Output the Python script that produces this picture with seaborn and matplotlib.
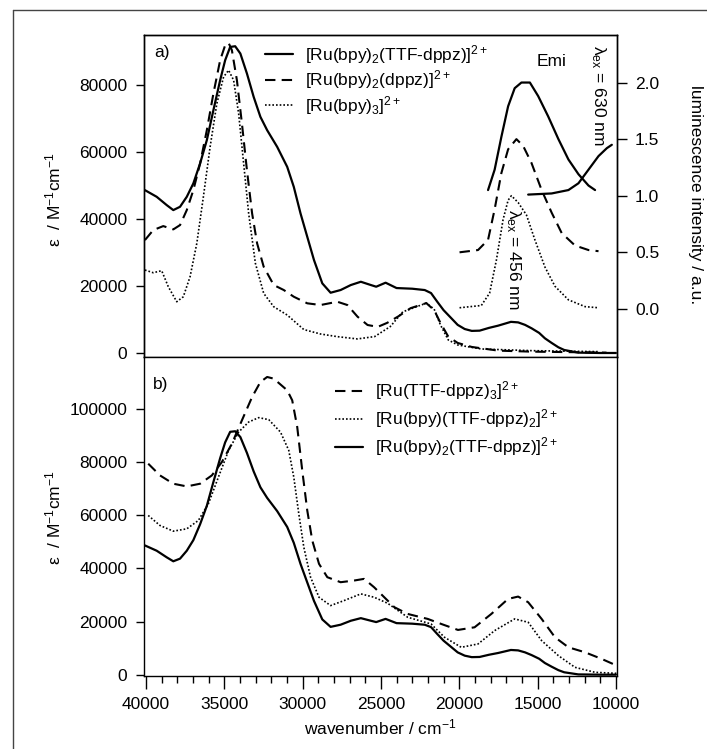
import numpy as np
import pandas as pd
import matplotlib
matplotlib.use("Agg")
import matplotlib.pyplot as plt
import seaborn as sns
from matplotlib.ticker import MultipleLocator
from matplotlib.lines import Line2D

# ---- absorption, panel a (wavenumber / cm-1, epsilon / M-1 cm-1)
wn_a_ttf = [40060, 39310, 38670, 38250, 37820, 37390, 36970, 36540, 36110, 35690,
            35260, 34940, 34620, 34300, 33970, 33550, 33120, 32690, 32260, 31620,
            30980, 30560, 30130, 29700, 29270, 28740, 28210, 27570, 26920, 26280,
            25640, 25300, 24700, 24000, 23000, 22200, 21800, 21400, 21000, 20500,
            20100, 19650, 19200, 18700, 18100, 17520, 16700, 16240, 15800, 15380,
            14900, 14530, 14100, 13670, 13300, 12400, 11000, 10000]
eps_a_ttf = [48650, 46660, 44180, 42690, 43680, 46660, 50660, 56620, 63580, 72540,
             81490, 87460, 91430, 91640, 89460, 83490, 76510, 70540, 66560, 61580,
             55610, 49640, 41700, 34720, 27760, 20800, 18000, 18810, 20300, 21280,
             20300, 19800, 21000, 19400, 19200, 18800, 17900, 15300, 12800, 10360,
             8400, 7160, 6600, 6670, 7500, 8160, 9300, 9140, 8400, 7370,
             6000, 4380, 3000, 1700, 900, 100, 0, 0]

wn_a_dppz = [40060, 39530, 38890, 38250, 37820, 37390, 36970, 36540, 36110, 35690,
             35260, 34940, 34720, 34510, 34190, 33870, 33550, 33220, 32900, 32480,
             31840, 31200, 30560, 29700, 28850, 27780, 27140, 26490, 25850, 25200,
             24600, 23900, 23100, 22100, 21600, 21200, 20700, 20100, 19200, 17500,
             15400, 12000, 10600]
eps_a_dppz = [33730, 36720, 37910, 36920, 38210, 42690, 48650, 56620, 66560, 77510,
              87460, 91940, 92630, 90450, 81490, 68560, 54630, 41700, 32740, 25760,
              20300, 18810, 16810, 14840, 14330, 15310, 14330, 10840, 8360, 7800,
              9000, 10900, 13400, 14900, 12800, 9000, 4900, 3000, 1800, 700,
              400, 200, 100]

wn_a_bpy3 = [40060, 39530, 38990, 38570, 38030, 37610, 37180, 36750, 36330, 35900,
             35470, 35040, 34720, 34400, 34080, 33760, 33440, 33010, 32480, 31840,
             30980, 29920, 28850, 27780, 26500, 25400, 24400, 23600, 22100, 21600,
             21200, 20700, 20100, 18600, 15400, 11100]
eps_a_bpy3 = [24780, 23980, 24580, 19800, 15310, 16810, 22780, 32740, 46660, 61580,
              74530, 82480, 84480, 81490, 71550, 56620, 41700, 26780, 17810, 13820,
              11340, 7000, 5670, 4880, 4200, 4900, 7900, 12300, 14900, 13100,
              8400, 3900, 2400, 1200, 700, 400]

# ---- emission, panel a (right axis, a.u.)
wn_em_ttf = [18160, 17740, 17310, 16880, 16460, 16030, 15490, 14960, 14320, 13670,
             13030, 12390, 11750, 11330]
em_ttf = [1.05, 1.23, 1.52, 1.79, 1.95, 2.00, 2.00, 1.88, 1.70, 1.50,
          1.32, 1.19, 1.09, 1.05]
wn_em_ttf2 = [15600, 14100, 13030, 12390, 11750, 11110, 10580, 10260]
em_ttf2 = [1.01, 1.02, 1.05, 1.11, 1.23, 1.35, 1.42, 1.45]
wn_em_dppz = [19980, 18800, 18160, 17740, 17310, 16880, 16350, 15920, 15390, 14740,
              14100, 13460, 12610, 11750, 11110]
em_dppz = [0.50, 0.52, 0.61, 0.88, 1.20, 1.41, 1.50, 1.44, 1.29, 1.05,
           0.85, 0.67, 0.56, 0.52, 0.51]
wn_em_bpy3 = [19980, 18590, 18060, 17630, 17200, 16880, 16670, 16240, 15710, 15170,
              14530, 13890, 13030, 11970, 11110]
em_bpy3 = [0.01, 0.03, 0.14, 0.43, 0.79, 0.96, 1.00, 0.94, 0.83, 0.61,
           0.37, 0.20, 0.08, 0.02, 0.01]

# ---- absorption, panel b
wn_b_ttf3 = [39850, 39100, 38250, 37390, 36540, 35790, 35150, 34510, 33870, 33220,
             32690, 32260, 31840, 30980, 30660, 30340, 30020, 29700, 29380, 28950,
             28420, 27570, 26710, 26070, 25430, 24570, 24140, 23290, 22010, 21150,
             20080, 19020, 17950, 16880, 16240, 15600, 14740, 13890, 13030, 11970,
             10900, 9940]
eps_b_ttf3 = [79430, 75020, 71890, 70880, 71890, 75020, 80050, 86970, 95760, 104540,
              110200, 112080, 111450, 107070, 103300, 93240, 76910, 61830, 50520, 41730,
              36700, 34810, 35440, 36070, 32900, 27900, 25400, 22870, 20990, 19100,
              16840, 17840, 22870, 28530, 29400, 27270, 20990, 14080, 10300, 8420,
              5910, 3390]

wn_b_ttf2 = [39850, 39100, 38250, 37390, 36650, 36010, 35370, 34720, 34080, 33440,
             32800, 32160, 31410, 30880, 30560, 30240, 29920, 29490, 28950, 28210,
             27350, 26280, 25430, 24570, 24360, 23290, 21800, 20940, 19870, 18800,
             17740, 16460, 15600, 14740, 13670, 12610, 11330, 9940]
eps_b_ttf2 = [59940, 56170, 54030, 54910, 58060, 64350, 74380, 84450, 91350, 95120,
              96770, 96020, 91350, 84450, 74380, 60580, 47990, 36700, 29140, 26010,
              27900, 30420, 29140, 26880, 26010, 21620, 19100, 14080, 10300, 11560,
              16590, 20990, 19730, 12820, 7160, 2760, 880, 500]

lab_ttf = "[Ru(bpy)$_2$(TTF-dppz)]$^{2+}$"
lab_dppz = "[Ru(bpy)$_2$(dppz)]$^{2+}$"
lab_bpy3 = "[Ru(bpy)$_3$]$^{2+}$"
lab_ttf3 = "[Ru(TTF-dppz)$_3$]$^{2+}$"
lab_ttf2 = "[Ru(bpy)(TTF-dppz)$_2$]$^{2+}$"

sns.set_style("ticks", {"axes.edgecolor": "black", "text.color": "black",
                        "xtick.color": "black", "ytick.color": "black",
                        "axes.labelcolor": "black"})
plt.rcParams["font.family"] = ["Liberation Sans", "DejaVu Sans"]
plt.rcParams["mathtext.fontset"] = "custom"
plt.rcParams["mathtext.rm"] = "Liberation Sans"
plt.rcParams["mathtext.it"] = "Liberation Sans"
plt.rcParams["mathtext.default"] = "regular"
plt.rcParams["font.size"] = 12.5
plt.rcParams["axes.linewidth"] = 1.0

DASH = (0, (5, 3))
DOT = (0, (1, 1.2))
W = 707
H = 749

fig = plt.figure(figsize=(7.07, 7.49), dpi=100)
ax1 = fig.add_axes([144 / W, 1 - 357 / H, 473 / W, 322 / H])
ax2 = fig.add_axes([144 / W, 1 - 676 / H, 473 / W, 319 / H])

# panel a
sns.lineplot(x=wn_a_ttf, y=eps_a_ttf, ax=ax1, color="k", lw=1.6, sort=False, label=lab_ttf)
sns.lineplot(x=wn_a_dppz, y=eps_a_dppz, ax=ax1, color="k", lw=1.5, linestyle=DASH, sort=False, label=lab_dppz)
sns.lineplot(x=wn_a_bpy3, y=eps_a_bpy3, ax=ax1, color="k", lw=1.2, linestyle=DOT, sort=False, label=lab_bpy3)
ax1.set_xlim(40120, 9930)
ax1.set_ylim(-1200, 95000)
ax1.set_yticks([0, 20000, 40000, 60000, 80000])
ax1.xaxis.set_major_locator(MultipleLocator(5000))
ax1.xaxis.set_minor_locator(MultipleLocator(1000))
ax1.tick_params(axis="x", which="major", direction="out", length=8, width=1, labelbottom=False)
ax1.tick_params(axis="x", which="minor", direction="out", length=4.5, width=1)
ax1.tick_params(axis="y", direction="out", length=6, width=1, pad=6)
ax1.set_xlabel("")
ax1.set_ylabel("")
ax1.legend(loc="upper left", bbox_to_anchor=(0.256, 0.975), frameon=False,
           handlelength=1.6, handletextpad=0.7, labelspacing=0.15,
           borderaxespad=0, borderpad=0, fontsize=12.5)

axr = ax1.twinx()
sns.lineplot(x=wn_em_ttf, y=em_ttf, ax=axr, color="k", lw=1.6, sort=False)
sns.lineplot(x=wn_em_ttf2, y=em_ttf2, ax=axr, color="k", lw=1.6, sort=False)
sns.lineplot(x=wn_em_dppz, y=em_dppz, ax=axr, color="k", lw=1.5, linestyle=DASH, sort=False)
sns.lineplot(x=wn_em_bpy3, y=em_bpy3, ax=axr, color="k", lw=1.2, linestyle=DOT, sort=False)
axr.set_xlim(40120, 9930)
axr.set_ylim(-0.425, 2.42)
axr.set_yticks([0.0, 0.5, 1.0, 1.5, 2.0])
axr.set_yticklabels(["0.0", "0.5", "1.0", "1.5", "2.0"])
axr.tick_params(axis="y", direction="out", length=7, width=1, pad=6)
axr.set_ylabel("")

# panel b
sns.lineplot(x=wn_b_ttf3, y=eps_b_ttf3, ax=ax2, color="k", lw=1.5, linestyle=DASH, sort=False, label=lab_ttf3)
sns.lineplot(x=wn_b_ttf2, y=eps_b_ttf2, ax=ax2, color="k", lw=1.2, linestyle=DOT, sort=False, label=lab_ttf2)
sns.lineplot(x=wn_a_ttf, y=eps_a_ttf, ax=ax2, color="k", lw=1.6, sort=False, label=lab_ttf)
ax2.set_xlim(40120, 9930)
ax2.set_ylim(-500, 119600)
ax2.set_yticks([0, 20000, 40000, 60000, 80000, 100000])
ax2.xaxis.set_major_locator(MultipleLocator(5000))
ax2.xaxis.set_minor_locator(MultipleLocator(1000))
ax2.tick_params(axis="x", which="major", direction="out", length=9, width=1, pad=6)
ax2.tick_params(axis="x", which="minor", direction="out", length=5, width=1)
ax2.tick_params(axis="y", direction="out", length=6, width=1, pad=6)
ax2.spines["top"].set_visible(False)
ax2.set_xlabel("")
ax2.set_ylabel("")
ax2.legend(loc="upper left", bbox_to_anchor=(0.404, 0.93), frameon=False,
           handlelength=1.6, handletextpad=0.7, labelspacing=0.3,
           borderaxespad=0, borderpad=0, fontsize=12.5)

# labels and annotations
ylab = "ε  / M$^{-1}$cm$^{-1}$"
fig.text(53 / W, 1 - 200 / H, ylab, rotation=90, ha="center", va="center", fontsize=12.5)
fig.text(53 / W, 1 - 518 / H, ylab, rotation=90, ha="center", va="center", fontsize=12.5)
fig.text(695 / W, 1 - 195 / H, "luminescence intensity / a.u.", rotation=-90,
         ha="center", va="center", fontsize=12.5)
fig.text(380 / W, 1 - 727 / H, "wavenumber / cm$^{-1}$", ha="center", va="center", fontsize=12.5)
fig.text(154 / W, 1 - 53 / H, "a)", ha="left", va="center", fontsize=12.5)
fig.text(153 / W, 1 - 384 / H, "b)", ha="left", va="center", fontsize=12.5)
fig.text(552 / W, 1 - 61 / H, "Emi", ha="center", va="center", fontsize=12.5)
fig.text(598 / W, 1 - 95 / H, "$λ_{ex}$ = 630 nm", rotation=-90,
         ha="center", va="center", fontsize=12.5)
fig.text(513 / W, 1 - 259 / H, "$λ_{ex}$ = 456 nm", rotation=-90,
         ha="center", va="center", fontsize=12.5)

# outer frame lines (top and left)
fig.add_artist(Line2D([13 / W, 1.0], [1 - 10 / H, 1 - 10 / H], color="#444444", lw=1.0))
fig.add_artist(Line2D([13 / W, 13 / W], [0, 1 - 10 / H], color="#444444", lw=1.0))

fig.savefig("out.png", dpi=100)
